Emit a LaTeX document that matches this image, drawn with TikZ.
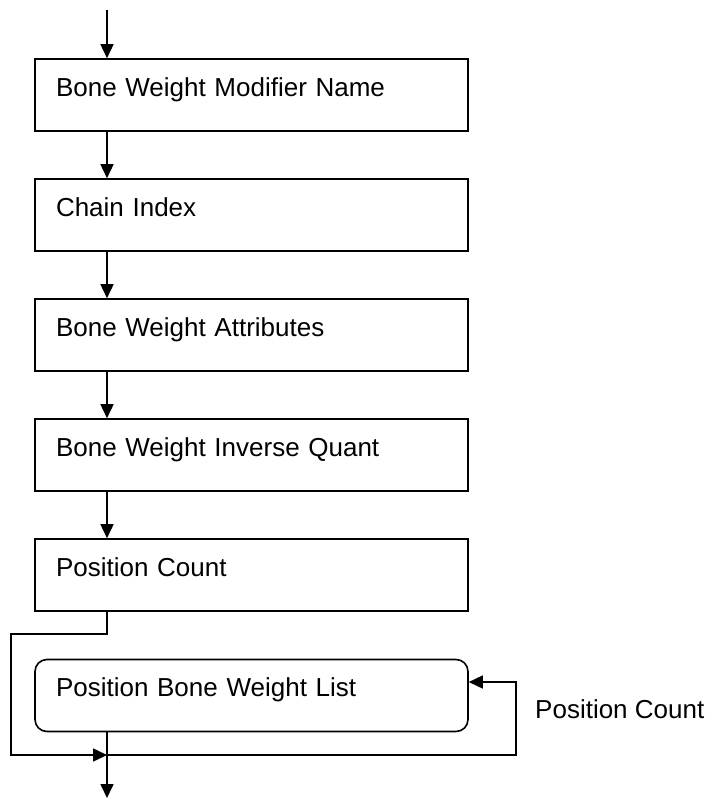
\documentclass[tikz,border=0pt]{standalone}
\usepackage{fontspec}
\setmainfont{Liberation Sans}
\usetikzlibrary{arrows.meta}

\begin{document}
\begin{tikzpicture}[
    x=1pt,y=-1pt,
    box/.style={draw,line width=1.6pt,text width=391pt,align=left,inner xsep=21pt,
                inner ysep=0pt,text height=37pt,text depth=35pt,
                font=\fontsize{26pt}{31pt}\selectfont},
    rbox/.style={box,rounded corners=12pt},
    arr/.style={-{Triangle[length=14pt,width=13pt]},line width=1.6pt}
]
  \useasboundingbox (0,0) rectangle (710,800);

  % Boxes
  \node[box] (modname) at (251.5,95) {Bone Weight Modifier Name};
  \node[box] (chain) at (251.5,215) {Chain Index};
  \node[box] (attrs) at (251.5,335) {Bone Weight Attributes};
  \node[box] (invquant) at (251.5,455) {Bone Weight Inverse Quant};
  \node[box] (poscount) at (251.5,575) {Position Count};
  \node[rbox] (poslist) at (251.5,695.5) {Position Bone Weight List};
  \node[anchor=base west,inner sep=0pt,font=\fontsize{26pt}{31pt}\selectfont]
    (cntlbl) at (535,718) {Position Count};

  % Spine coordinates
  \coordinate (start) at (107,10);
  \coordinate (finish) at (107,798);
  \coordinate (lft) at (11,634);
  \coordinate (join) at (107,755);
  \coordinate (back) at (516,682);

  % Arrows
  \draw[arr] (start) -- (start |- modname.north);
  \draw[arr] (start |- modname.south) -- (start |- chain.north);
  \draw[arr] (start |- chain.south) -- (start |- attrs.north);
  \draw[arr] (start |- attrs.south) -- (start |- invquant.north);
  \draw[arr] (start |- invquant.south) -- (start |- poscount.north);
  \draw[arr] (start |- poslist.south) -- (finish);

  % Loop
  \draw[arr] (start |- poscount.south) |- (lft) |- (join);
  \draw[arr] (join) -| (back) -- (back -| poslist.east);
\end{tikzpicture}
\end{document}
